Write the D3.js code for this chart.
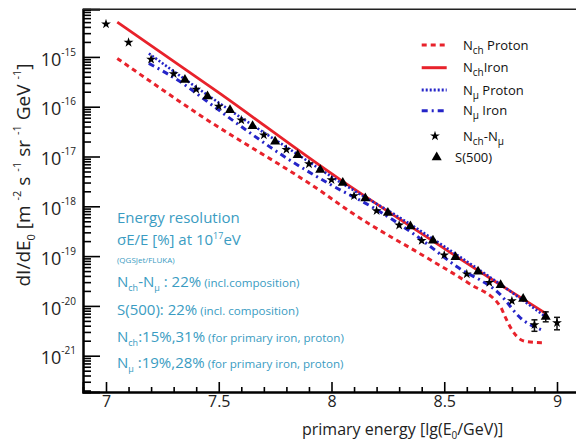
<!DOCTYPE html>
<html>
<head>
<meta charset="utf-8">
<script src="https://cdn.jsdelivr.net/npm/d3@7"></script>
<style>
  body { margin: 0; background: #fff; }
  svg { display: block; font-family: "Open Sans", "Noto Sans", sans-serif; }
</style>
</head>
<body>
<svg id="chart" width="576" height="443"></svg>
<script>
// ---------- data: differential flux dI/dE0 vs lg(E0/GeV) ----------
// N_ch - N_mu reconstruction (stars)
const starE    = [7.0, 7.1, 7.2, 7.3, 7.4, 7.5, 7.6, 7.7, 7.8, 7.9, 8.0,
                  8.1, 8.2, 8.3, 8.4, 8.5, 8.6, 8.7, 8.8, 8.9, 9.0];
const starFlux = [4.57e-15, 1.95e-15, 8.91e-16, 4.57e-16, 2.24e-16, 1.02e-16,
                  5.37e-17, 2.69e-17, 1.38e-17, 7.08e-18, 3.39e-18, 1.62e-18,
                  8.13e-19, 4.17e-19, 2.04e-19, 1.05e-19, 4.37e-20, 2.95e-20,
                  1.26e-20, 4.17e-21, 4.57e-21];
// S(500) reconstruction (triangles)
const triE    = [7.35, 7.45, 7.55, 7.65, 7.75, 7.85, 7.95, 8.05, 8.15,
                 8.25, 8.35, 8.45, 8.55, 8.65, 8.75, 8.85, 8.95];
const triFlux = [3.47e-16, 1.62e-16, 8.51e-17, 4.07e-17, 2.00e-17, 1.07e-17,
                 5.37e-18, 2.95e-18, 1.45e-18, 7.41e-19, 3.98e-19, 2.04e-19,
                 9.55e-20, 4.90e-20, 2.63e-20, 1.38e-20, 6.03e-21];
// statistical error bars on the highest-energy points
const errE    = [8.9, 9.0, 8.95];
const errLow  = [3.09e-21, 3.31e-21, 4.79e-21];
const errHigh = [5.25e-21, 5.89e-21, 7.59e-21];

// simulated N_ch spectra
const nchIronE    = [7.05, 7.5, 8.04, 8.3, 8.555, 8.75, 8.95];
const nchIronFlux = [5.01e-15, 1.91e-16, 3.39e-18, 5.62e-19, 9.77e-20, 2.63e-20, 7.08e-21];
const nchProtE    = [7.05, 7.42, 7.96, 8.08, 8.44, 8.61, 8.75, 8.77, 8.80, 8.84, 8.87, 8.95];
const nchProtFlux = [9.33e-16, 6.61e-17, 1.91e-18, 7.94e-19, 8.32e-20, 2.82e-20,
                     9.55e-21, 6.03e-21, 3.31e-21, 2.09e-21, 1.91e-21, 1.82e-21];
// simulated N_mu spectra
const nmuProtE    = [7.19, 7.5, 7.82, 8.04, 8.3, 8.555, 8.75, 8.95];
const nmuProtFlux = [1.17e-15, 1.20e-16, 1.35e-17, 3.02e-18, 6.03e-19, 1.07e-19, 2.69e-20, 6.03e-21];
const nmuIronE    = [7.19, 7.33, 7.45, 7.57, 7.79, 7.99, 8.19, 8.36, 8.555, 8.75, 8.84, 8.93];
const nmuIronFlux = [7.41e-16, 3.16e-16, 1.26e-16, 5.01e-17, 1.00e-17, 2.82e-18,
                     9.12e-19, 2.88e-19, 6.17e-20, 1.66e-20, 5.62e-21, 3.31e-21];

// axis ticks
const xMajor = [7, 7.5, 8, 8.5, 9];
const xMinor = [7.1, 7.2, 7.3, 7.4, 7.6, 7.7, 7.8, 7.9, 8.1, 8.2, 8.3, 8.4,
                8.6, 8.7, 8.8, 8.9];
const yDecades = [-21, -20, -19, -18, -17, -16, -15];

// ---------- layout ----------
const svg = d3.select("#chart");
const pL = 83, pR = 580, pT = 9.3, pB = 392;

const x = d3.scaleLinear().domain([6.898, 9.102]).range([pL, pR]);
const y = d3.scaleLog().domain([Math.pow(10, -21.729), Math.pow(10, -14.044)]).range([pB, pT]);

const RED = "#e8222b", BLUE = "#2424c8", TEAL = "#3a9cc2";

svg.append("rect").attr("width", 576).attr("height", 443).attr("fill", "#fff");

svg.append("defs").append("clipPath").attr("id", "plot")
  .append("rect").attr("x", pL).attr("y", pT).attr("width", pR - pL).attr("height", pB - pT);

// writes mixed-size text with sub/superscripts into a <text>
function rich(textSel, parts) {
  let cur = 0;
  parts.forEach(p => {
    const ts = textSel.append("tspan").text(p.t);
    if (p.size) ts.attr("font-size", p.size);
    const s = p.shift || 0;
    if (s !== cur) { ts.attr("dy", s - cur); cur = s; }
  });
}

// ---------- axes ----------
const yMinorVals = [];
for (let n = -22; n <= -15; n++) {
  for (let k = 2; k <= 9; k++) {
    const v = k * Math.pow(10, n);
    if (v >= y.domain()[0] && v <= y.domain()[1]) yMinorVals.push(v);
  }
}

const gyMinor = svg.append("g").attr("transform", `translate(${pL},0)`)
  .call(d3.axisLeft(y).tickValues(yMinorVals).tickSize(-8).tickFormat(""));
gyMinor.selectAll("text").remove();
const gyMajor = svg.append("g").attr("transform", `translate(${pL},0)`)
  .call(d3.axisLeft(y).tickValues(yDecades.map(n => Math.pow(10, n))).tickSize(-17).tickPadding(7));
[gyMinor, gyMajor].forEach(g => {
  g.select("path.domain").attr("stroke", "#000").attr("stroke-width", 2);
  g.selectAll(".tick line").attr("stroke", "#000").attr("stroke-width", 1.6);
});
gyMajor.selectAll(".tick text").each(function (d) {
  const t = d3.select(this).text("").attr("font-size", 18).attr("dy", "0.45em")
    .attr("fill", "#222").attr("font-family", "'Open Sans', sans-serif");
  rich(t, [{ t: "10" }, { t: String(Math.round(Math.log10(d))), size: 10, shift: -10 }]);
});

const gxMinor = svg.append("g").attr("transform", `translate(0,${pB})`)
  .call(d3.axisBottom(x).tickValues(xMinor).tickSize(-5).tickFormat(""));
gxMinor.selectAll("text").remove();
const gxMajor = svg.append("g").attr("transform", `translate(0,${pB})`)
  .call(d3.axisBottom(x).tickValues(xMajor).tickSize(-10).tickPadding(4).tickFormat(d3.format("~g")));
[gxMinor, gxMajor].forEach(g => {
  g.select("path.domain").attr("stroke", "#000").attr("stroke-width", 1.8);
  g.selectAll(".tick line").attr("stroke", "#000").attr("stroke-width", 1.6);
});
gxMajor.selectAll(".tick text").attr("font-size", 16).attr("fill", "#222")
  .attr("font-family", "'Open Sans', sans-serif");

// top frame
svg.append("line").attr("x1", pL).attr("x2", pR).attr("y1", pT).attr("y2", pT)
  .attr("stroke", "#222").attr("stroke-width", 1.5);

// ---------- curves ----------
const plot = svg.append("g").attr("clip-path", "url(#plot)");
const line = d3.line().x(d => x(d[0])).y(d => y(d[1])).curve(d3.curveMonotoneX);
const curves = [
  { e: nchProtE, f: nchProtFlux, color: RED,  width: 3,   dash: "5,4" },
  { e: nmuIronE, f: nmuIronFlux, color: BLUE, width: 3,   dash: "6,4,2,4" },
  { e: nchIronE, f: nchIronFlux, color: RED,  width: 2.8, dash: null },
  { e: nmuProtE, f: nmuProtFlux, color: BLUE, width: 2.6, dash: "2,2" }
];
curves.forEach(c => {
  plot.append("path")
    .datum(d3.zip(c.e, c.f))
    .attr("d", line)
    .attr("fill", "none")
    .attr("stroke", c.color)
    .attr("stroke-width", c.width)
    .attr("stroke-dasharray", c.dash);
});

// ---------- error bars ----------
errE.forEach((e, i) => {
  const g = plot.append("g").attr("stroke", "#111").attr("stroke-width", 1.5);
  const cx = x(e), y0 = y(errLow[i]), y1 = y(errHigh[i]);
  g.append("line").attr("x1", cx).attr("x2", cx).attr("y1", y0).attr("y2", y1);
  g.append("line").attr("x1", cx - 3).attr("x2", cx + 3).attr("y1", y0).attr("y2", y0);
  g.append("line").attr("x1", cx - 3).attr("x2", cx + 3).attr("y1", y1).attr("y2", y1);
});

// ---------- markers ----------
const triPath = d3.symbol().type(d3.symbolTriangle).size(44)();
const starPath = d3.symbol().type(d3.symbolStar).size(30)();
plot.selectAll("path.tri").data(d3.zip(triE, triFlux)).join("path")
  .attr("class", "tri").attr("d", triPath).attr("fill", "#000")
  .attr("transform", d => `translate(${x(d[0])},${y(d[1])})`);
plot.selectAll("path.star").data(d3.zip(starE, starFlux)).join("path")
  .attr("class", "star").attr("d", starPath).attr("fill", "#000")
  .attr("transform", d => `translate(${x(d[0])},${y(d[1])})`);

// ---------- legend ----------
const legend = svg.append("g").attr("font-size", 13).attr("fill", "#111");
const legendRows = [
  { yy: 45,    kind: "line", color: RED,  dash: "5,4",     parts: [{ t: "N" }, { t: "ch", size: 10, shift: 4 }, { t: " Proton", shift: 0 }] },
  { yy: 67.7,  kind: "line", color: RED,  dash: null,      parts: [{ t: "N" }, { t: "ch", size: 10, shift: 4 }, { t: "Iron", shift: 0 }] },
  { yy: 90,    kind: "line", color: BLUE, dash: "2,2",     parts: [{ t: "N" }, { t: "\u03bc", size: 10, shift: 4 }, { t: " Proton", shift: 0 }] },
  { yy: 110.7, kind: "line", color: BLUE, dash: "6,4,2,4", parts: [{ t: "N" }, { t: "\u03bc", size: 10, shift: 4 }, { t: " Iron", shift: 0 }] },
  { yy: 136,   kind: "star", parts: [{ t: "N" }, { t: "ch", size: 10, shift: 4 }, { t: "-N", shift: 0 }, { t: "\u03bc", size: 10, shift: 4 }] },
  { yy: 157.3, kind: "tri",  parts: [{ t: "S(500)" }] }
];
legendRows.forEach(r => {
  if (r.kind === "line") {
    legend.append("line").attr("x1", 421.7).attr("x2", 446.7).attr("y1", r.yy).attr("y2", r.yy)
      .attr("stroke", r.color).attr("stroke-width", 3).attr("stroke-dasharray", r.dash);
  } else {
    legend.append("path").attr("d", r.kind === "star" ? starPath : triPath)
      .attr("fill", "#000").attr("transform", `translate(${r.kind === "star" ? 435 : 436.7},${r.yy})`);
  }
  const t = legend.append("text").attr("x", r.kind === "tri" ? 455 : 463).attr("y", r.yy + 4.6);
  rich(t, r.parts);
});

// ---------- resolution notes ----------
const notes = svg.append("g").attr("fill", TEAL).attr("font-size", 15);
const noteLines = [
  { yy: 223, parts: [{ t: "Energy resolution" }] },
  { yy: 245, parts: [{ t: "\u03c3E/E [%] at 10" }, { t: "17", size: 9, shift: -6 }, { t: "eV", shift: 0 }] },
  { yy: 263, parts: [{ t: "(QGSJet/FLUKA)", size: 8 }] },
  { yy: 287, parts: [{ t: "N" }, { t: "ch", size: 9, shift: 4 }, { t: "-N", shift: 0 }, { t: "\u03bc", size: 9, shift: 4 },
                     { t: " : 22%", shift: 0 }, { t: " (incl.composition)", size: 11.6 }] },
  { yy: 315, parts: [{ t: "S(500): 22%" }, { t: " (incl. composition)", size: 11.6 }] },
  { yy: 342, parts: [{ t: "N" }, { t: "ch", size: 9, shift: 4 }, { t: ":15%,31%", shift: 0 }, { t: " (for primary iron, proton)", size: 11.6 }] },
  { yy: 368, parts: [{ t: "N" }, { t: "\u03bc", size: 9, shift: 4 }, { t: " :19%,28%", shift: 0 }, { t: " (for primary iron, proton)", size: 11.6 }] }
];
noteLines.forEach(l => rich(notes.append("text").attr("x", 117).attr("y", l.yy), l.parts));

// ---------- axis titles ----------
const xt = svg.append("text").attr("x", 302).attr("y", 435).attr("font-size", 16).attr("fill", "#222");
rich(xt, [{ t: "primary energy [lg(E" }, { t: "0", size: 10, shift: 4 }, { t: "/GeV)]", shift: 0 }]);

const yt = svg.append("text").attr("transform", "translate(30,175) rotate(-90)")
  .attr("text-anchor", "middle").attr("font-size", 19).attr("fill", "#222");
rich(yt, [
  { t: "dI/dE" }, { t: "0", size: 11, shift: 5 }, { t: " [m ", shift: 0 }, { t: "-2", size: 11, shift: -9 },
  { t: " s ", shift: 0 }, { t: "-1", size: 11, shift: -9 }, { t: " sr ", shift: 0 }, { t: "-1", size: 11, shift: -9 },
  { t: " GeV ", shift: 0 }, { t: "-1", size: 11, shift: -9 }, { t: "]", shift: 0 }
]);
</script>
</body>
</html>
